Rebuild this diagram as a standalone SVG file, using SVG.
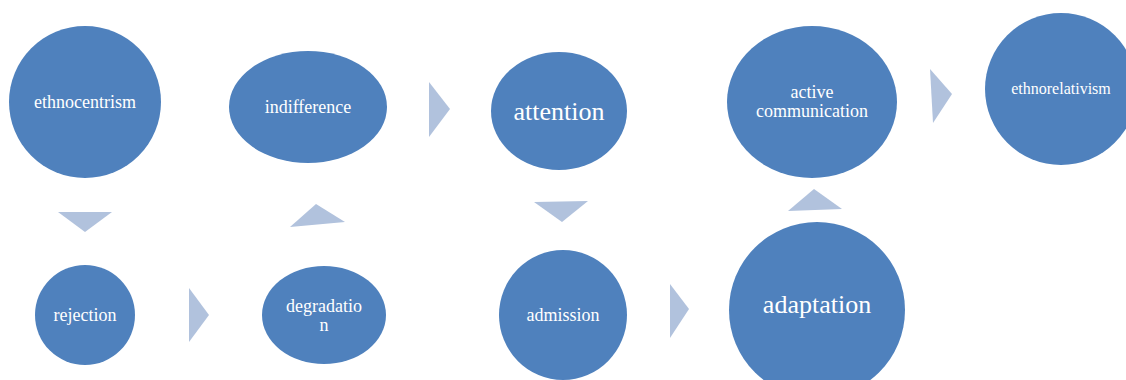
<svg xmlns="http://www.w3.org/2000/svg" width="1126" height="380" viewBox="0 0 1126 380">
<style>
.n{fill:#4F81BD}
.a{fill:#B1C2DD}
.t{fill:#FFFFFF;text-anchor:middle}
.s18{font-size:18px}
.s16{font-size:16px}
.s26{font-size:26px}
</style>
<rect width="1126" height="380" fill="#FFFFFF"/>
<g id="connectors">
<polygon class="a" points="58,212 112,212 85,232"/>
<polygon class="a" points="189,288 189,342 209,315"/>
<polygon class="a" points="290,227 345,222 316,204"/>
<polygon class="a" points="429,82 429,137 450,109"/>
<polygon class="a" points="534,202 588,201 562,222"/>
<polygon class="a" points="670,284 670,338 689,309"/>
<polygon class="a" points="788,211 842,209 814,189"/>
<polygon class="a" points="930,69 933,123 952,94"/>
</g>
<g font-family="Liberation Serif, Times New Roman, serif">
<g id="ethnocentrism"><ellipse class="n" cx="85" cy="102" rx="76" ry="76"/><text class="t s18" x="85" y="108">ethnocentrism</text></g>
<g id="rejection"><ellipse class="n" cx="85" cy="315" rx="50" ry="50"/><text class="t s18" x="85" y="321">rejection</text></g>
<g id="degradation"><ellipse class="n" cx="324" cy="315" rx="62" ry="49"/><text class="t s18" x="324" y="312">degradatio</text><text class="t s18" x="324" y="331">n</text></g>
<g id="indifference"><ellipse class="n" cx="308" cy="107" rx="79" ry="56"/><text class="t s18" x="308" y="113">indifference</text></g>
<g id="attention"><ellipse class="n" cx="559" cy="111" rx="68" ry="59"/><text class="t s26" x="559" y="120">attention</text></g>
<g id="admission"><ellipse class="n" cx="563" cy="315" rx="64" ry="65"/><text class="t s18" x="563" y="321">admission</text></g>
<g id="adaptation"><ellipse class="n" cx="817" cy="310" rx="88" ry="88"/><text class="t s26" x="817" y="313">adaptation</text></g>
<g id="active-communication"><ellipse class="n" cx="812" cy="102" rx="85" ry="76"/><text class="t s18" x="812" y="98">active</text><text class="t s18" x="812" y="117">communication</text></g>
<g id="ethnorelativism"><ellipse class="n" cx="1061" cy="89" rx="76" ry="76"/><text class="t s16" x="1061" y="94">ethnorelativism</text></g>
</g>
</svg>
